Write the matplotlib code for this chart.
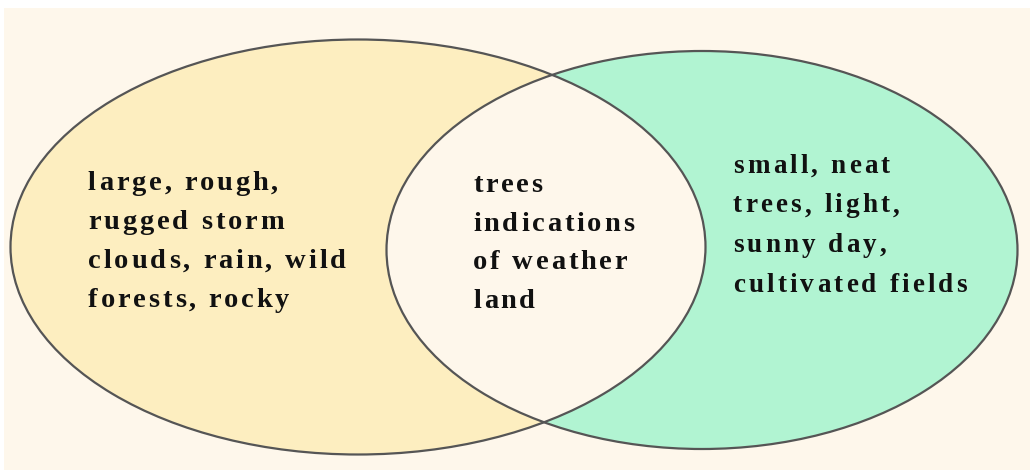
import matplotlib.pyplot as plt
from matplotlib.patches import Ellipse, Rectangle

left_lines = ["large, rough,", "rugged storm", "clouds, rain, wild", "forests, rocky"]
middle_lines = ["trees", "indications", "of weather", "land"]
right_lines = ["small, neat", "trees, light,", "sunny day,", "cultivated fields"]

bg = "#fef7eb"
left_color = "#fdeec0"
right_color = "#b1f4d2"
edge = "#555555"


def text_width(ax, renderer, s, **kw):
    t = ax.text(0, 0, s + "|", **kw)
    w = t.get_window_extent(renderer).width
    t.remove()
    return w


def spaced_text(ax, renderer, x, y, s, track, **kw):
    # matplotlib has no letter spacing, so place the letters one by one
    bar = text_width(ax, renderer, "", **kw)
    for i, c in enumerate(s):
        if c == " ":
            continue
        off = text_width(ax, renderer, s[:i], **kw) - bar
        ax.text(x + off + i * track, y, c, **kw)


def main():
    fig = plt.figure(figsize=(10.3, 4.72), dpi=100)
    ax = fig.add_axes([0, 0, 1, 1])
    ax.set_xlim(0, 1030)
    ax.set_ylim(472, 0)
    ax.axis("off")
    renderer = fig.canvas.get_renderer()

    ax.add_patch(Rectangle((4, 8), 1026, 462, facecolor=bg, edgecolor="none"))

    left = dict(xy=(358, 247), width=695, height=415)
    right = dict(xy=(702, 250), width=631, height=398)

    ax.add_patch(Ellipse(**left, facecolor=left_color, edgecolor="none"))
    ax.add_patch(Ellipse(**right, facecolor=right_color, edgecolor="none"))

    # overlap drawn in the background colour
    clip = Ellipse(**right, facecolor="none", edgecolor="none")
    ax.add_patch(clip)
    mid = Ellipse(**left, facecolor=bg, edgecolor="none")
    ax.add_patch(mid)
    mid.set_clip_path(clip)

    ax.add_patch(Ellipse(**left, facecolor="none", edgecolor=edge, lw=1.6))
    ax.add_patch(Ellipse(**right, facecolor="none", edgecolor=edge, lw=1.6))

    font = dict(family="Liberation Serif", weight="bold", color="#111111",
                va="baseline", ha="left")
    for i, s in enumerate(left_lines):
        spaced_text(ax, renderer, 88, 190 + i * 39, s, 2.9, fontsize=20.5, **font)
    for i, s in enumerate(middle_lines):
        spaced_text(ax, renderer, 473, 192 + i * 38.7, s, 2.8, fontsize=20.5, **font)
    for i, s in enumerate(right_lines):
        spaced_text(ax, renderer, 733, 173 + i * 39.5, s, 3.2, fontsize=19.5, **font)

    fig.savefig("out.png", dpi=100, facecolor="white")


if __name__ == "__main__":
    main()
